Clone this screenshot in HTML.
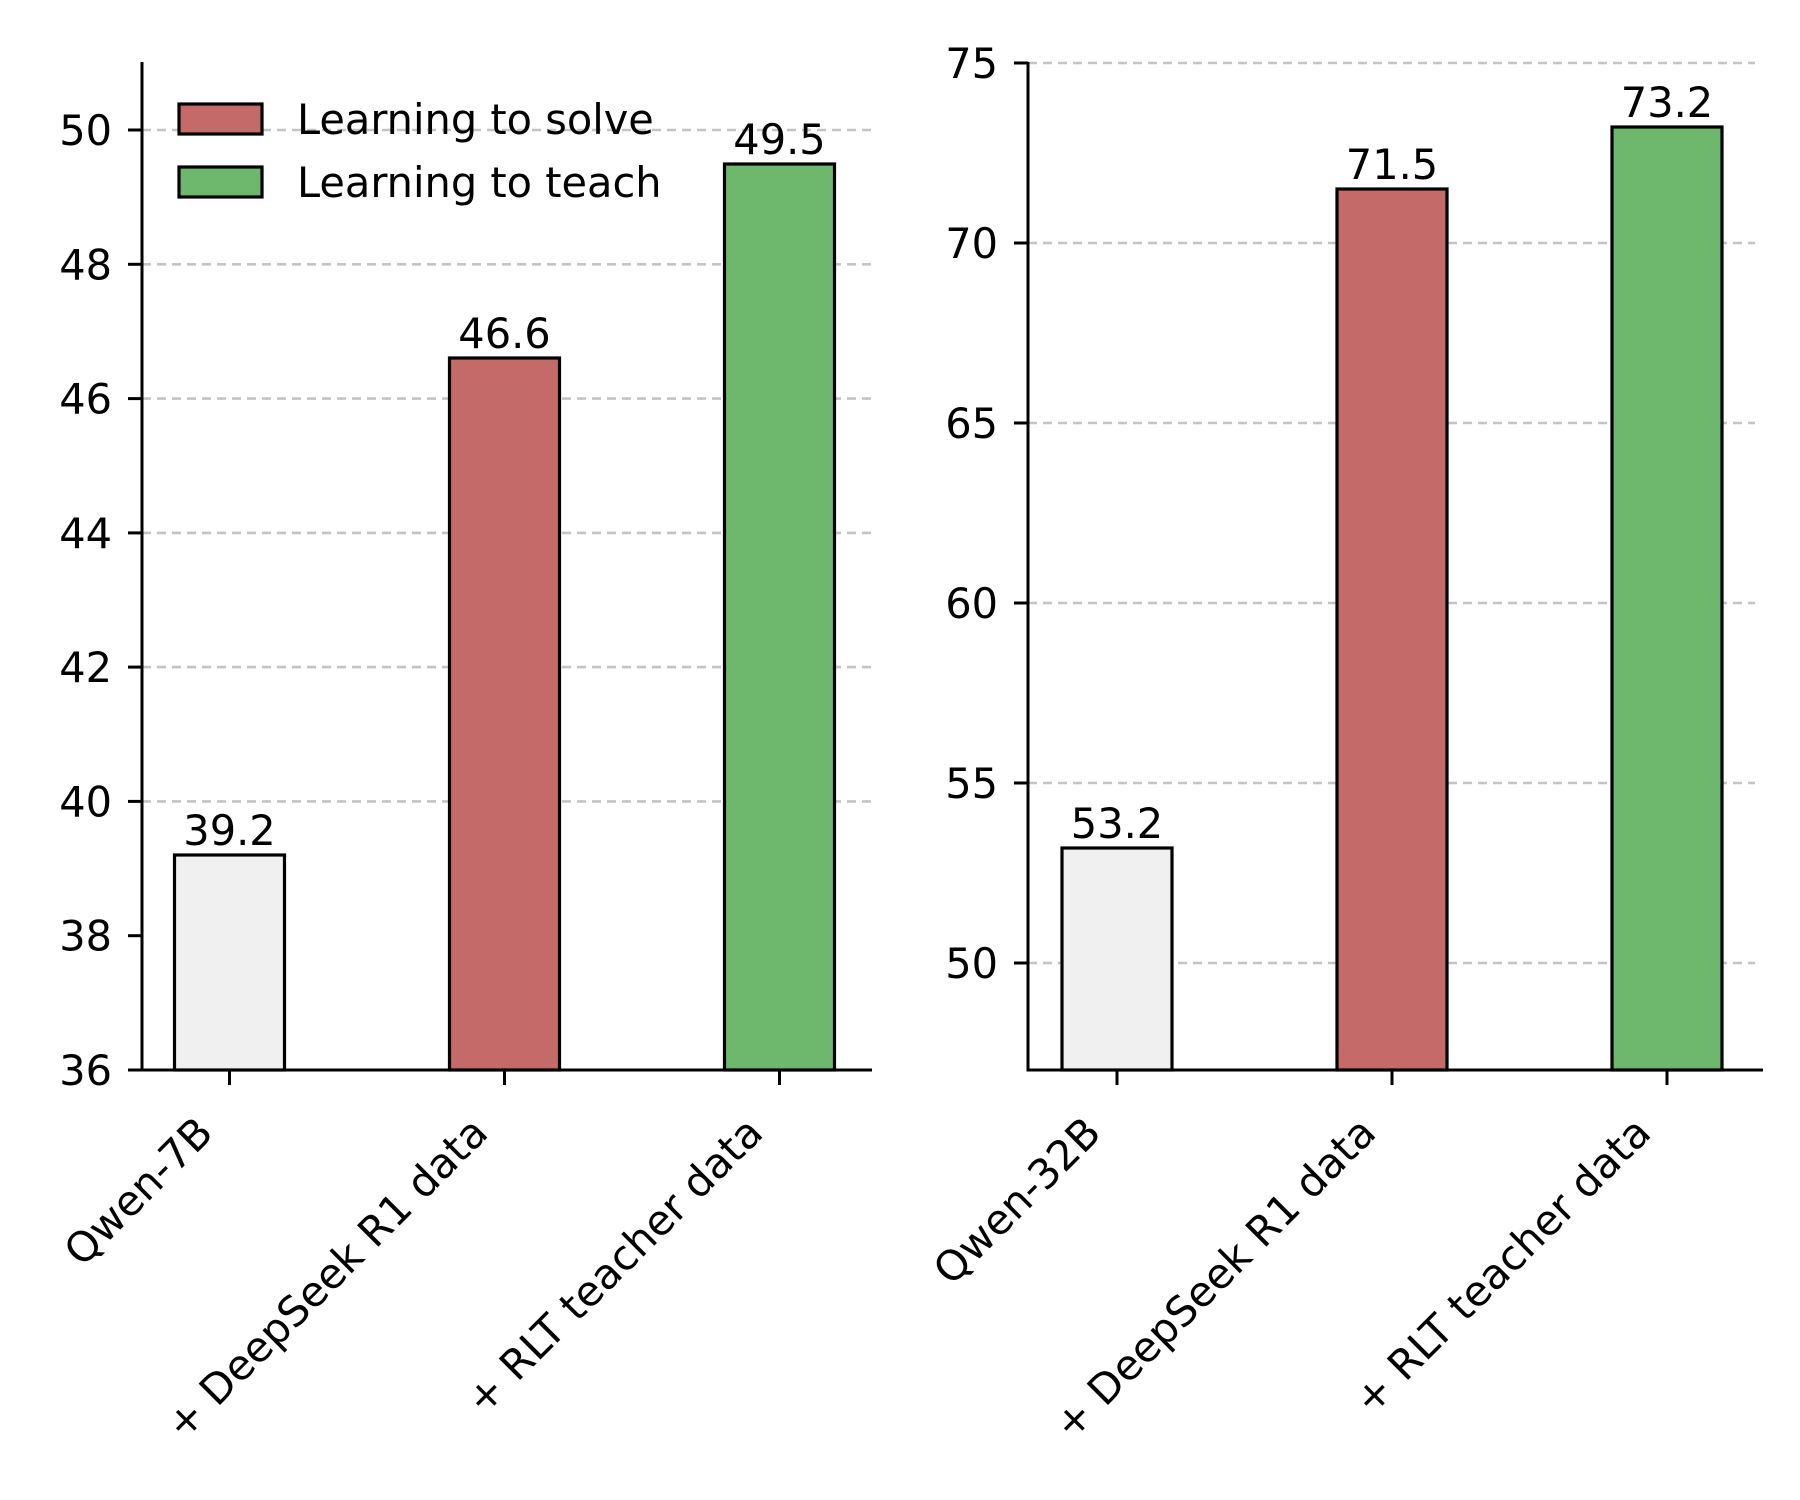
<!DOCTYPE html>
<html><head><meta charset="utf-8"><style>html,body{margin:0;padding:0;background:#fff}svg{display:block}</style></head>
<body>
<svg width="1800" height="1500" viewBox="0 0 1800 1500" xmlns="http://www.w3.org/2000/svg" font-family="DejaVu Sans, Liberation Sans, sans-serif" font-size="41.5">
<g stroke="#c4c4c4" stroke-width="2.6" stroke-dasharray="9,6">
<line x1="142" x2="872" y1="130" y2="130"/>
<line x1="142" x2="872" y1="264.3" y2="264.3"/>
<line x1="142" x2="872" y1="398.6" y2="398.6"/>
<line x1="142" x2="872" y1="532.9" y2="532.9"/>
<line x1="142" x2="872" y1="667.1" y2="667.1"/>
<line x1="142" x2="872" y1="801.4" y2="801.4"/>
<line x1="1028" x2="1755" y1="63" y2="63"/>
<line x1="1028" x2="1755" y1="243" y2="243"/>
<line x1="1028" x2="1755" y1="423" y2="423"/>
<line x1="1028" x2="1755" y1="603" y2="603"/>
<line x1="1028" x2="1755" y1="783" y2="783"/>
<line x1="1028" x2="1755" y1="963" y2="963"/>
</g>
<g stroke="#000" stroke-width="3.2">
<rect x="174.5" y="855" width="110" height="215" fill="#f0f0f0"/>
<rect x="449.5" y="358" width="110" height="712" fill="#c46a69"/>
<rect x="724.5" y="164" width="110" height="906" fill="#6db86c"/>
<rect x="1062" y="848" width="110" height="222" fill="#f0f0f0"/>
<rect x="1337" y="189" width="110" height="881" fill="#c46a69"/>
<rect x="1612" y="127" width="110" height="943" fill="#6db86c"/>
</g>
<g fill="#000" text-anchor="middle">
<text x="229.5" y="845">39.2</text>
<text x="504.5" y="348">46.6</text>
<text x="779.5" y="154">49.5</text>
<text x="1117" y="838">53.2</text>
<text x="1392" y="179">71.5</text>
<text x="1667" y="117">73.2</text>
</g>
<g stroke="#000" stroke-width="3" fill="none">
<line x1="142" y1="62" x2="142" y2="1071.5"/>
<line x1="140.5" y1="1070" x2="872" y2="1070"/>
<line x1="1028" y1="62" x2="1028" y2="1071.5"/>
<line x1="1026.5" y1="1070" x2="1763" y2="1070"/>
<line x1="128" x2="142" y1="130" y2="130"/><line x1="128" x2="142" y1="264.3" y2="264.3"/><line x1="128" x2="142" y1="398.6" y2="398.6"/><line x1="128" x2="142" y1="532.9" y2="532.9"/><line x1="128" x2="142" y1="667.1" y2="667.1"/><line x1="128" x2="142" y1="801.4" y2="801.4"/><line x1="128" x2="142" y1="935.7" y2="935.7"/><line x1="128" x2="142" y1="1070" y2="1070"/>
<line x1="1014" x2="1028" y1="63" y2="63"/><line x1="1014" x2="1028" y1="243" y2="243"/><line x1="1014" x2="1028" y1="423" y2="423"/><line x1="1014" x2="1028" y1="603" y2="603"/><line x1="1014" x2="1028" y1="783" y2="783"/><line x1="1014" x2="1028" y1="963" y2="963"/>
<line x1="229.5" x2="229.5" y1="1070" y2="1085"/><line x1="504.5" x2="504.5" y1="1070" y2="1085"/><line x1="779.5" x2="779.5" y1="1070" y2="1085"/>
<line x1="1117" x2="1117" y1="1070" y2="1085"/><line x1="1392" x2="1392" y1="1070" y2="1085"/><line x1="1667" x2="1667" y1="1070" y2="1085"/>
</g>
<g fill="#000" text-anchor="end">
<text x="112" y="145">50</text><text x="112" y="279.3">48</text><text x="112" y="413.6">46</text><text x="112" y="547.9">44</text><text x="112" y="682.1">42</text><text x="112" y="816.4">40</text><text x="112" y="950.7">38</text><text x="112" y="1085">36</text>
<text x="998" y="78">75</text><text x="998" y="258">70</text><text x="998" y="438">65</text><text x="998" y="618">60</text><text x="998" y="798">55</text><text x="998" y="978">50</text>
<text transform="translate(215,1135) rotate(-45)">Qwen-7B</text>
<text transform="translate(490,1135) rotate(-45)">+ DeepSeek R1 data</text>
<text transform="translate(765,1135) rotate(-45)">+ RLT teacher data</text>
<text transform="translate(1103,1135) rotate(-45)">Qwen-32B</text>
<text transform="translate(1378,1135) rotate(-45)">+ DeepSeek R1 data</text>
<text transform="translate(1653,1135) rotate(-45)">+ RLT teacher data</text>
</g>
<g stroke="#000" stroke-width="3.2">
<rect x="179" y="104" width="83" height="30" fill="#c46a69"/>
<rect x="179" y="167" width="83" height="30" fill="#6db86c"/>
</g>
<g fill="#000">
<text x="297" y="134">Learning to solve</text>
<text x="297" y="197">Learning to teach</text>
</g>
</svg>
</body></html>
